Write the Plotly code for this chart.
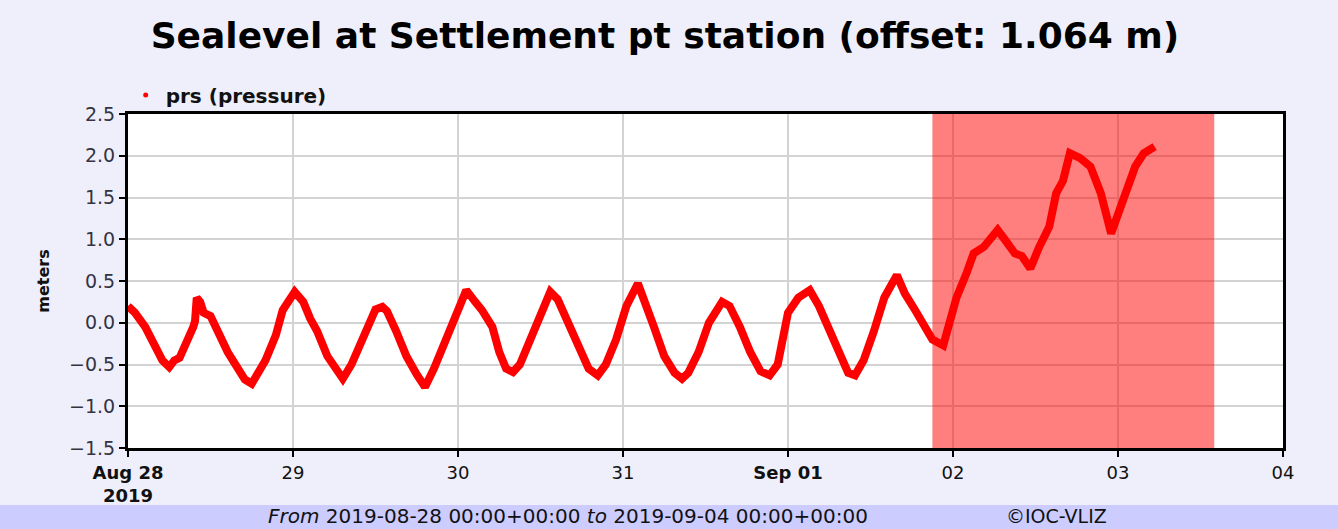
import plotly.graph_objects as go

times = [
    "2019-08-28 00:00", "2019-08-28 01:00", "2019-08-28 02:30", "2019-08-28 04:00", "2019-08-28 05:00",
    "2019-08-28 06:00", "2019-08-28 06:45", "2019-08-28 07:30", "2019-08-28 08:30", "2019-08-28 09:30",
    "2019-08-28 09:45", "2019-08-28 10:00", "2019-08-28 10:30", "2019-08-28 11:00", "2019-08-28 12:00",
    "2019-08-28 13:00", "2019-08-28 14:30", "2019-08-28 16:00", "2019-08-28 17:00", "2019-08-28 18:00",
    "2019-08-28 19:00", "2019-08-28 20:00", "2019-08-28 21:30", "2019-08-28 22:30",
    "2019-08-29 00:15", "2019-08-29 01:30", "2019-08-29 02:30", "2019-08-29 03:30", "2019-08-29 05:00",
    "2019-08-29 06:30", "2019-08-29 07:15", "2019-08-29 08:30", "2019-08-29 10:00", "2019-08-29 11:30",
    "2019-08-29 12:00", "2019-08-29 13:00", "2019-08-29 13:40", "2019-08-29 15:00", "2019-08-29 16:30",
    "2019-08-29 18:00", "2019-08-29 19:12", "2019-08-29 20:30", "2019-08-29 22:00", "2019-08-29 23:30",
    "2019-08-30 01:12", "2019-08-30 02:30", "2019-08-30 03:30", "2019-08-30 05:00", "2019-08-30 06:00",
    "2019-08-30 07:00", "2019-08-30 08:00", "2019-08-30 09:00", "2019-08-30 10:30", "2019-08-30 12:00",
    "2019-08-30 13:25", "2019-08-30 14:30", "2019-08-30 16:00", "2019-08-30 17:30", "2019-08-30 19:00",
    "2019-08-30 20:20", "2019-08-30 21:30", "2019-08-30 23:00",
    "2019-08-31 00:30", "2019-08-31 02:10", "2019-08-31 03:00", "2019-08-31 04:30", "2019-08-31 06:00",
    "2019-08-31 07:30", "2019-08-31 08:35", "2019-08-31 09:30", "2019-08-31 11:00", "2019-08-31 12:30",
    "2019-08-31 14:25", "2019-08-31 15:30", "2019-08-31 17:00", "2019-08-31 18:30", "2019-08-31 20:00",
    "2019-08-31 21:20", "2019-08-31 22:30",
    "2019-09-01 00:00", "2019-09-01 01:30", "2019-09-01 03:10", "2019-09-01 04:30", "2019-09-01 06:00",
    "2019-09-01 07:30", "2019-09-01 08:45", "2019-09-01 09:45", "2019-09-01 11:00", "2019-09-01 12:30",
    "2019-09-01 14:00", "2019-09-01 15:50", "2019-09-01 17:00", "2019-09-01 18:30", "2019-09-01 19:30",
    "2019-09-01 21:00", "2019-09-01 22:35", "2019-09-01 23:30",
    "2019-09-02 00:30", "2019-09-02 02:00", "2019-09-02 03:00", "2019-09-02 04:30", "2019-09-02 06:30",
    "2019-09-02 07:30", "2019-09-02 09:00", "2019-09-02 10:00", "2019-09-02 11:15", "2019-09-02 12:30",
    "2019-09-02 14:00", "2019-09-02 15:00", "2019-09-02 16:00", "2019-09-02 17:00", "2019-09-02 18:30",
    "2019-09-02 20:00", "2019-09-02 21:30", "2019-09-02 23:00",
    "2019-09-03 00:30", "2019-09-03 01:30", "2019-09-03 02:30", "2019-09-03 03:45", "2019-09-03 05:20",
]
sealevel = [
    0.20, 0.12, -0.05, -0.30, -0.45,
    -0.53, -0.45, -0.42, -0.25, -0.05,
    0.02, 0.30, 0.25, 0.12, 0.08,
    -0.10, -0.35, -0.55, -0.68, -0.73,
    -0.60, -0.45, -0.15, 0.15,
    0.37, 0.25, 0.05, -0.10, -0.40,
    -0.60, -0.67, -0.50, -0.20, 0.10,
    0.16, 0.19, 0.14, -0.10, -0.40,
    -0.62, -0.77, -0.55, -0.25, 0.10,
    0.39, 0.25, 0.15, -0.05, -0.35,
    -0.55, -0.59, -0.50, -0.20, 0.10,
    0.37, 0.28, 0.00, -0.30, -0.55,
    -0.63, -0.50, -0.20,
    0.20, 0.47, 0.30, -0.05, -0.40,
    -0.60, -0.67, -0.60, -0.35, 0.00,
    0.25, 0.20, -0.05, -0.35, -0.58,
    -0.63, -0.50,
    0.12, 0.30, 0.39, 0.20, -0.10,
    -0.40, -0.60, -0.63, -0.45, -0.10,
    0.30, 0.57, 0.35, 0.15, 0.00,
    -0.20, -0.27, 0.00,
    0.30, 0.60, 0.83, 0.91, 1.11,
    1.00, 0.83, 0.80, 0.65, 0.90,
    1.15, 1.55, 1.70, 2.03, 1.97,
    1.87, 1.55, 1.07,
    1.39, 1.63, 1.87, 2.03, 2.11,
]

tick_vals = ["2019-08-28", "2019-08-29", "2019-08-30", "2019-08-31",
             "2019-09-01", "2019-09-02", "2019-09-03", "2019-09-04"]
tick_text = ["<b>Aug 28</b><br><b>2019</b>", "29", "30", "31", "<b>Sep 01</b>", "02", "03", "04"]
y_ticks = [-1.5, -1.0, -0.5, 0.0, 0.5, 1.0, 1.5, 2.0, 2.5]
shade_start = "2019-09-01 21:00"
shade_end = "2019-09-03 14:00"

FONT = "DejaVu Sans, Verdana, sans-serif"
BG = "#EFEFFB"

fig = go.Figure()
fig.add_trace(go.Scatter(
    x=times, y=sealevel, mode="lines",
    line=dict(color="#FF0000", width=8),
    showlegend=False, hoverinfo="x+y",
))
fig.add_trace(go.Scatter(
    x=[None], y=[None], mode="markers",
    marker=dict(color="#FF0000", size=5),
    name="<b>prs (pressure)</b>",
))

fig.add_shape(type="rect", xref="x", yref="paper",
              x0=shade_start, x1=shade_end, y0=0, y1=1,
              fillcolor="#FF0000", opacity=0.5, line=dict(width=0), layer="above")

# bottom info band
fig.add_shape(type="rect", xref="paper", yref="paper",
              x0=-0.2, x1=1.1, y0=-0.171, y1=-0.26,
              fillcolor="#CCCCFF", line=dict(width=0), layer="below")

fig.add_annotation(
    xref="paper", yref="paper", x=0.381, y=-0.205, xanchor="center", yanchor="middle",
    text="<i>From</i> 2019-08-28 00:00+00:00 <i>to</i> 2019-09-04 00:00+00:00",
    showarrow=False, font=dict(family=FONT, size=20, color="#111111"),
)
fig.add_annotation(
    xref="paper", yref="paper", x=0.804, y=-0.205, xanchor="center", yanchor="middle",
    text="©IOC-VLIZ",
    showarrow=False, font=dict(family=FONT, size=19, color="#111111"),
)

fig.update_layout(
    width=1338, height=529,
    paper_bgcolor=BG, plot_bgcolor="#FFFFFF",
    margin=dict(l=128, r=55, t=114, b=81),
    title=dict(text="<b>Sealevel at Settlement pt station (offset: 1.064 m)</b>",
               x=0.497, xanchor="center", y=0.934, yanchor="middle",
               font=dict(family=FONT, size=36, color="#000000")),
    legend=dict(x=-0.002, y=1.057, xanchor="left", yanchor="middle",
                bgcolor="rgba(0,0,0,0)", font=dict(family=FONT, size=20, color="#111111"),
                itemwidth=30),
    font=dict(family=FONT, color="#222222"),
)
fig.update_xaxes(
    type="date", range=["2019-08-28", "2019-09-04"],
    tickvals=tick_vals, ticktext=tick_text,
    showgrid=True, gridcolor="#D3D3D3", gridwidth=1.5,
    showline=True, linecolor="#000000", linewidth=3, mirror=True,
    ticks="outside", ticklen=6, tickcolor="#000000", tickwidth=2,
    tickfont=dict(family=FONT, size=18, color="#111111"),
    zeroline=False,
)
fig.update_yaxes(
    range=[-1.5, 2.5], tickvals=y_ticks, tickformat=".1f",
    showgrid=True, gridcolor="#D3D3D3", gridwidth=1.5,
    showline=True, linecolor="#000000", linewidth=3, mirror=True,
    ticks="outside", ticklen=6, tickcolor="#000000", tickwidth=2,
    tickfont=dict(family=FONT, size=19, color="#333344"),
    title=dict(text="<b>meters</b>", font=dict(family=FONT, size=16, color="#111111"), standoff=16),
    zeroline=False,
)

fig.write_html("out.html", config={"displayModeBar": False},
               post_script="document.body.style.margin='0px';")
